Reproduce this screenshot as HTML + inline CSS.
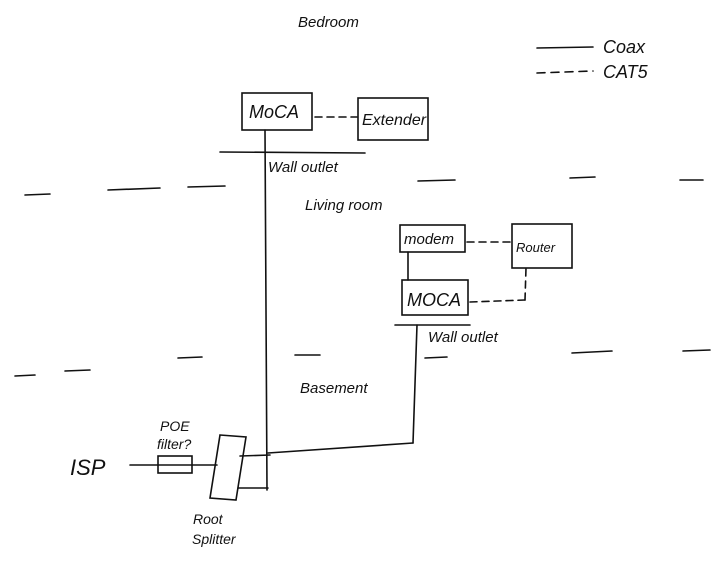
<!DOCTYPE html>
<html><head><meta charset="utf-8"><style>
html,body{margin:0;padding:0;background:#fff}
svg{display:block}
text{font-family:"Liberation Sans",sans-serif;font-style:italic;fill:#111}
</style></head><body>
<svg width="728" height="564" viewBox="0 0 728 564" xmlns="http://www.w3.org/2000/svg">
<rect width="728" height="564" fill="#fff"/>
<g stroke="#111" stroke-width="1.6" fill="none" stroke-linecap="round">
<!-- legend -->
<line x1="537" y1="48" x2="593" y2="47"/>
<line x1="537" y1="73" x2="593" y2="71" stroke-dasharray="8,6"/>
<!-- bedroom moca -->
<rect x="242" y="93" width="70" height="37"/>
<line x1="315" y1="117" x2="357" y2="117" stroke-dasharray="7,5"/>
<rect x="358" y="98" width="70" height="42"/>
<line x1="220" y1="152" x2="365" y2="153"/>
<!-- floor line 1 -->
<line x1="25" y1="195" x2="50" y2="194"/>
<line x1="108" y1="190" x2="160" y2="188"/>
<line x1="188" y1="187" x2="225" y2="186"/>
<line x1="418" y1="181" x2="455" y2="180"/>
<line x1="570" y1="178" x2="595" y2="177"/>
<line x1="680" y1="180" x2="703" y2="180"/>
<!-- main coax vertical -->
<line x1="265" y1="130" x2="267" y2="490"/>
<!-- living room -->
<rect x="400" y="225" width="65" height="27"/>
<line x1="467" y1="242" x2="512" y2="242" stroke-dasharray="7,5"/>
<rect x="512" y="224" width="60" height="44"/>
<line x1="408" y1="252" x2="408" y2="280"/>
<rect x="402" y="280" width="66" height="35"/>
<line x1="470" y1="302" x2="525" y2="300" stroke-dasharray="7,5"/>
<line x1="525" y1="300" x2="526" y2="268" stroke-dasharray="7,5"/>
<line x1="395" y1="325" x2="470" y2="325"/>
<line x1="417" y1="325" x2="413" y2="443"/>
<line x1="413" y1="443" x2="268" y2="453"/>
<!-- floor line 2 -->
<line x1="15" y1="376" x2="35" y2="375"/>
<line x1="65" y1="371" x2="90" y2="370"/>
<line x1="178" y1="358" x2="202" y2="357"/>
<line x1="295" y1="355" x2="320" y2="355"/>
<line x1="425" y1="358" x2="447" y2="357"/>
<line x1="572" y1="353" x2="612" y2="351"/>
<line x1="683" y1="351" x2="710" y2="350"/>
<!-- ISP -->
<line x1="130" y1="465" x2="217" y2="465"/>
<rect x="158" y="456" width="34" height="17"/>
<polygon points="220,435 246,437 236,500 210,498"/>
<line x1="240" y1="456" x2="270" y2="455"/>
<line x1="238" y1="488" x2="268" y2="488"/>
</g>
<g font-size="15">
<text x="298" y="27">Bedroom</text>
<text x="603" y="53" font-size="18">Coax</text>
<text x="603" y="78" font-size="18">CAT5</text>
<text x="249" y="118" font-size="18">MoCA</text>
<text x="362" y="125" font-size="16">Extender</text>
<text x="268" y="172">Wall outlet</text>
<text x="305" y="210">Living room</text>
<text x="404" y="244">modem</text>
<text x="516" y="252" font-size="13">Router</text>
<text x="407" y="306" font-size="18">MOCA</text>
<text x="428" y="342">Wall outlet</text>
<text x="300" y="393">Basement</text>
<text x="70" y="475" font-size="22">ISP</text>
<text x="160" y="431" font-size="14">POE</text>
<text x="157" y="449" font-size="14">filter?</text>
<text x="193" y="524" font-size="14">Root</text>
<text x="192" y="544" font-size="14">Splitter</text>
</g>
</svg>
</body></html>
